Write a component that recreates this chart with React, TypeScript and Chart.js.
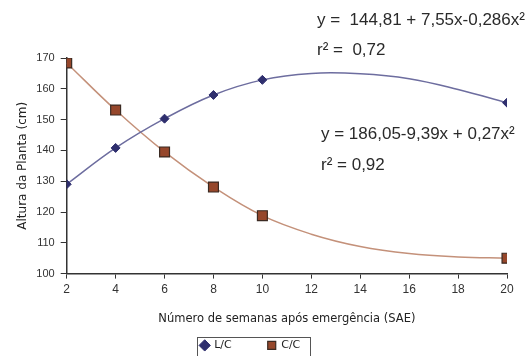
import React, { useEffect, useRef } from "react";
import { Chart, registerables } from "chart.js";

Chart.register(...registerables);

// ---- data ----
const weeks = [2, 4, 6, 8, 10, 20];
const lcValues = [129.0, 140.8, 150.3, 158.0, 162.9, 155.5];
const ccValues = [168.4, 153.1, 139.5, 128.1, 118.8, 105.0];

// fitted curves
const trendWeeks = [2, 4, 6, 8, 10, 12, 14, 16, 18, 20];
const lcTrend = [129.0, 140.8, 150.3, 158.0, 162.9, 165.0, 164.9, 163.3, 159.8, 155.5];
const ccTrend = [168.4, 153.1, 139.5, 128.1, 118.8, 112.8, 108.8, 106.5, 105.4, 105.0];

const seriesLabels = ["L/C", "C/C"];
const xTitle = "Número de semanas após emergência (SAE)";
const yTitle = "Altura da Planta (cm)";
const equations = [
  "y =  144,81 + 7,55x-0,286x²",
  "r² =  0,72",
  "y = 186,05-9,39x + 0,27x²",
  "r² = 0,92",
];

const SANS = "'Liberation Sans', Arial, sans-serif";
const DEJAVU = "'DejaVu Sans', Verdana, sans-serif";
const AXIS = "#333333";
const LC_MARK = "#2f2f6e";
const LC_LINE = "#6d6d9f";
const CC_FILL = "#96472b";
const CC_BORDER = "#3b2a22";
const CC_LINE = "#c4917a";
const LEGEND_PAD = 36;

const toXY = (xs: number[], ys: number[]) => xs.map((x, i) => ({ x, y: ys[i] }));

const annotationPlugin = {
  id: "equations",
  afterLayout(chart: any) {
    const l = chart.legend;
    if (l) {
      const h = l.bottom - l.top;
      const target = 346.5 - LEGEND_PAD - 6.6;
      l.top = target;
      l.bottom = target + h;
      l.left -= 3;
      l.right -= 3;
    }
  },
  afterDraw(chart: any) {
    const ctx = chart.ctx;
    ctx.save();
    ctx.fillStyle = "#2a2a2a";
    ctx.font = `17px ${SANS}`;
    ctx.textBaseline = "middle";
    ctx.textAlign = "left";
    ctx.fillText(equations[0], 317, 20);
    ctx.fillText(equations[1], 317, 50);
    ctx.fillText(equations[2], 321, 134);
    ctx.fillText(equations[3], 321, 165);
    // legend border
    const l = chart.legend;
    if (l && l.legendHitBoxes && l.legendHitBoxes.length) {
      const boxes = l.legendHitBoxes;
      let minX = Infinity, maxX = -Infinity;
      boxes.forEach((b: any) => {
        minX = Math.min(minX, b.left);
        maxX = Math.max(maxX, b.left + b.width);
      });
      ctx.strokeStyle = "#555";
      ctx.lineWidth = 1;
      const left = Math.round(minX - 4) + 0.5;
      ctx.strokeRect(left, 337.5, Math.round(maxX + 10) - left + 0.5, 20);
    }
    ctx.restore();
  },
};

export default function App() {
  const ref = useRef<HTMLCanvasElement>(null);
  useEffect(() => {
    if (!ref.current) return;
    const chart = new Chart(ref.current, {
      type: "line",
      data: {
        datasets: [
          {
            label: seriesLabels[0],
            data: toXY(weeks, lcValues),
            showLine: false,
            pointStyle: "rectRot",
            pointRadius: 4.5,
            backgroundColor: LC_MARK,
            borderColor: LC_MARK,
            pointBorderWidth: 1,
            order: 1,
          },
          {
            label: seriesLabels[1],
            data: toXY(weeks, ccValues),
            showLine: false,
            pointStyle: "rect",
            pointRadius: 7,
            backgroundColor: CC_FILL,
            borderColor: CC_BORDER,
            pointBorderWidth: 1.2,
            order: 1,
          },
          {
            label: "lcTrend",
            data: toXY(trendWeeks, lcTrend),
            borderColor: LC_LINE,
            borderWidth: 1.5,
            pointRadius: 0,
            tension: 0.4,
            fill: false,
            order: 2,
          },
          {
            label: "ccTrend",
            data: toXY(trendWeeks, ccTrend),
            borderColor: CC_LINE,
            borderWidth: 1.5,
            pointRadius: 0,
            tension: 0.4,
            fill: false,
            order: 2,
          },
        ],
      },
      options: {
        animation: false,
        responsive: true,
        maintainAspectRatio: false,
        layout: { padding: { top: 58, right: 23, left: 0, bottom: 0 } },
        plugins: {
          tooltip: { enabled: false },
          legend: {
            position: "bottom",
            labels: {
              usePointStyle: true,
              boxWidth: 8,
              boxHeight: 8,
              padding: LEGEND_PAD,
              color: "#222",
              font: { size: 11, family: DEJAVU },
              filter: (item: any) => item.datasetIndex < 2,
            },
          },
        },
        scales: {
          x: {
            type: "linear",
            min: 2,
            max: 20,
            ticks: { stepSize: 2, padding: 4, color: AXIS, font: { size: 12, family: SANS } },
            grid: { drawOnChartArea: false, drawTicks: true, tickLength: 5, color: AXIS },
            border: { color: AXIS, width: 1.5 },
            title: {
              display: true,
              text: xTitle,
              color: "#222",
              font: { size: 11.5, family: DEJAVU },
              padding: { top: 0, bottom: 0 },
            },
            afterFit: (s: any) => {
              s.height = 318 + 6.9 - 272.7;
            },
          },
          y: {
            type: "linear",
            min: 100,
            max: 170,
            ticks: { stepSize: 10, padding: 6, color: AXIS, font: { size: 11, family: SANS } },
            grid: { drawOnChartArea: false, drawTicks: true, tickLength: 6, color: AXIS },
            border: { color: AXIS, width: 1.5 },
            title: {
              display: true,
              text: yTitle,
              color: "#222",
              font: { size: 12, family: DEJAVU },
              padding: { top: 16, bottom: 0 },
            },
            afterFit: (s: any) => {
              s.width = 66.7;
            },
          },
        },
      },
      plugins: [
        annotationPlugin,
        {
          id: "fixBottom",
          beforeLayout(chart: any) {
            // reserve the remaining bottom space so the plot area ends at y = 272.7
            const legH = 57.9;
            chart.options.layout.padding.bottom = 356 - (318 + 6.9) - legH;
          },
        },
      ],
    });
    return () => chart.destroy();
  }, []);
  return (
    <div style={{ position: "fixed", left: 0, top: 0, width: 530, height: 356, background: "#fff" }}>
      <canvas ref={ref} />
    </div>
  );
}
